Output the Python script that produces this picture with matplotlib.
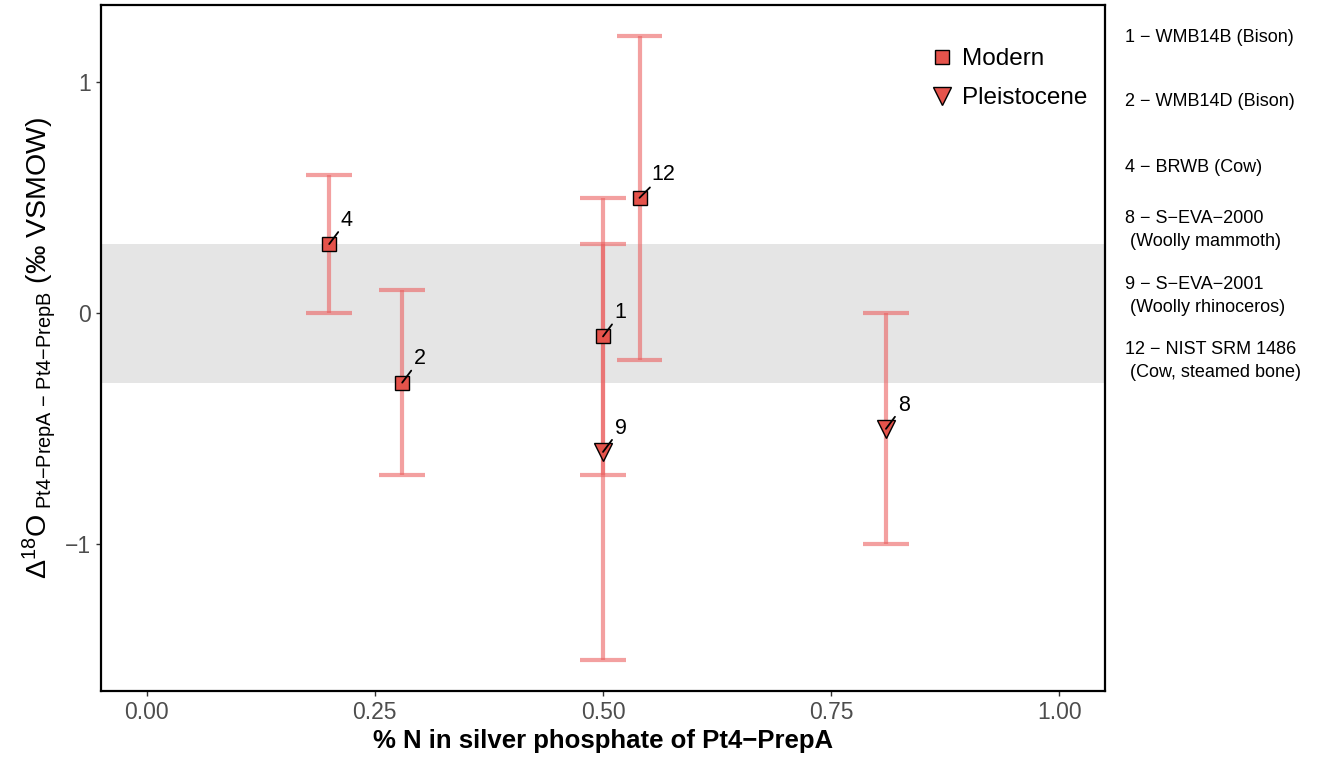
import matplotlib
matplotlib.use("Agg")
import matplotlib.pyplot as plt
from matplotlib.lines import Line2D

plt.rcParams['font.family'] = ['Liberation Sans', 'DejaVu Sans']
plt.rcParams['mathtext.fontset'] = 'custom'
plt.rcParams['mathtext.rm'] = 'Liberation Sans'
plt.rcParams['mathtext.it'] = 'Liberation Sans:italic'
plt.rcParams['mathtext.bf'] = 'Liberation Sans:bold'

# Data
labels = ["4", "2", "1", "12", "9", "8"]
x_pctN = [0.20, 0.28, 0.50, 0.54, 0.50, 0.81]
delta = [0.30, -0.30, -0.10, 0.50, -0.60, -0.50]
err_lo = [0.0, -0.7, -0.7, -0.2, -1.5, -1.0]
err_hi = [0.6, 0.1, 0.5, 1.2, 0.3, 0.0]
group = ["Modern", "Modern", "Modern", "Modern", "Pleistocene", "Pleistocene"]
band = (-0.3, 0.3)
xticks = [0.0, 0.25, 0.5, 0.75, 1.0]
yticks = [-1, 0, 1]
side_notes = ["1 \u2212 WMB14B (Bison)", "2 \u2212 WMB14D (Bison)", "4 \u2212 BRWB (Cow)",
              "8 \u2212 S\u2212EVA\u22122000\n (Woolly mammoth)",
              "9 \u2212 S\u2212EVA\u22122001\n (Woolly rhinoceros)",
              "12 \u2212 NIST SRM 1486\n (Cow, steamed bone)"]
side_y = [38, 101, 167, 230, 296, 361]

W, H = 1322, 761
fig = plt.figure(figsize=(W/100, H/100), dpi=100)
ax = fig.add_axes([101/W, (H-691)/H, (1105-101)/W, (691-5)/H])

ax.set_xlim(-0.05, 1.05)
ax.set_ylim(-1.635, 1.335)

ax.axhspan(band[0], band[1], color='#e5e5e5', zorder=0, lw=0)

err_col = (0.92, 0.38, 0.38, 0.6)
capw = 0.05
for xi, lo, hi in zip(x_pctN, err_lo, err_hi):
    ax.plot([xi, xi], [lo, hi], color=err_col, lw=3, solid_capstyle='butt', zorder=2)
    ax.plot([xi - capw/2, xi + capw/2], [lo, lo], color=err_col, lw=3, solid_capstyle='butt', zorder=2)
    ax.plot([xi - capw/2, xi + capw/2], [hi, hi], color=err_col, lw=3, solid_capstyle='butt', zorder=2)

fill = '#E5534B'
mk = {"Modern": 's', "Pleistocene": 'v'}
ms = {"Modern": 10, "Pleistocene": 13}
for xi, yi, g, lab in zip(x_pctN, delta, group, labels):
    ax.plot(xi, yi, marker=mk[g], ms=ms[g], mfc=fill, mec='black', mew=1.0, ls='none', zorder=3)
    ax.annotate(lab, xy=(xi, yi), xytext=(8.5, 9.5), textcoords='offset points',
                fontsize=15.5, ha='left', va='bottom', zorder=4,
                arrowprops=dict(arrowstyle='-', color='black', lw=1.3, shrinkA=0, shrinkB=0))

ax.set_xticks(xticks)
ax.set_xticklabels([f"{t:.2f}" for t in xticks])
ax.set_yticks(yticks)
ax.set_yticklabels(["\u22121", "0", "1"])
ax.tick_params(axis='both', labelsize=16.5, labelcolor='#4d4d4d', color='#333333', length=3.5, width=1)
for s in ax.spines.values():
    s.set_linewidth(1.6)
    s.set_color('black')

ax.set_xlabel("% N in silver phosphate of Pt4\u2212PrepA", fontsize=18.5, fontweight='bold', labelpad=4)
ax.set_ylabel(r"$\Delta^{18}$O$_{\mathrm{\ Pt4{-}PrepA\ {-}\ Pt4{-}PrepB}}$ (‰ VSMOW)", fontsize=20.5, labelpad=5)

handles = [Line2D([], [], marker='s', ms=10, mfc=fill, mec='black', ls='none', label='Modern'),
           Line2D([], [], marker='v', ms=13, mfc=fill, mec='black', ls='none', label='Pleistocene')]
ax.legend(handles=handles, loc='upper right', bbox_to_anchor=((1087-101)/1004, (691-48)/686),
          frameon=False, fontsize=17.5, handletextpad=0.3, handlelength=1.0, labelspacing=0.7,
          borderpad=0, borderaxespad=0)

for txt, yy in zip(side_notes, side_y):
    fig.text(1125/W, 1 - yy/H, txt, fontsize=13, ha='left', va='center', linespacing=1.4)

fig.savefig("out.png", dpi=100)
